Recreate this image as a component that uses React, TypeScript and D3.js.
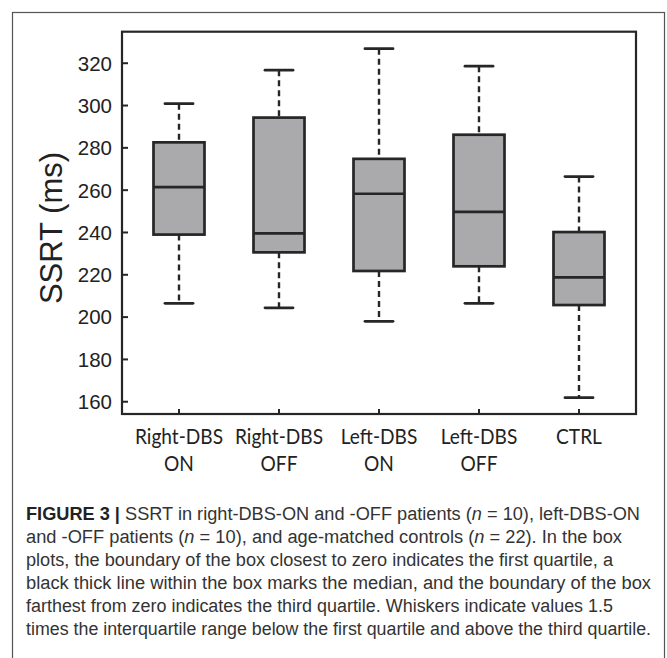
import React from 'react'
import * as d3 from 'd3'

const groups = ['Right-DBS ON', 'Right-DBS OFF', 'Left-DBS ON', 'Left-DBS OFF', 'CTRL']
const groupLabels = [['Right-DBS', 'ON'], ['Right-DBS', 'OFF'], ['Left-DBS', 'ON'], ['Left-DBS', 'OFF'], ['CTRL']]
const whiskerLow = [206.5, 204.4, 198, 206.5, 161.9]
const q1 = [239, 230.6, 221.8, 224, 205.7]
const median = [261.4, 239.6, 258.3, 249.7, 218.8]
const q3 = [282.6, 294.3, 274.8, 286.2, 240.2]
const whiskerHigh = [300.9, 316.7, 326.9, 318.6, 266.4]
const yTicks = [160, 180, 200, 220, 240, 260, 280, 300, 320]

// caption lines: [text, style] segments
const captionLines = [
  [['FIGURE 3 |', 'b'], [' SSRT in right-DBS-ON and -OFF patients (', ''], ['n', 'i'], [' = 10), left-DBS-ON', '']],
  [['and -OFF patients (', ''], ['n', 'i'], [' = 10), and age-matched controls (', ''], ['n', 'i'], [' = 22). In the box', '']],
  [['plots, the boundary of the box closest to zero indicates the first quartile, a', '']],
  [['black thick line within the box marks the median, and the boundary of the box', '']],
  [['farthest from zero indicates the third quartile. Whiskers indicate values 1.5', '']],
  [['times the interquartile range below the first quartile and above the third quartile.', '']]
]
const captionWidths = [614, 596, 587, 625, 587, 625]

const App = () => {
  const left = 122
  const right = 636
  const top = 31.7
  const bottom = 414

  const x = d3.scalePoint().domain(groups).range([left, right]).padding(0.57)
  const y = d3.scaleLinear().domain([154.2, 334.9]).range([bottom, top])

  const boxW = 51
  const capW = 28
  const stroke = '#262626'

  const boxes = groups.map((g, i) => {
    const cx = x(g)
    return (
      <g key={g}>
        <line x1={cx} x2={cx} y1={y(whiskerHigh[i])} y2={y(q3[i])} stroke={stroke} strokeWidth={2.4} strokeDasharray="6,4" />
        <line x1={cx} x2={cx} y1={y(q1[i])} y2={y(whiskerLow[i])} stroke={stroke} strokeWidth={2.4} strokeDasharray="6,4" />
        <line x1={cx - capW / 2} x2={cx + capW / 2} y1={y(whiskerHigh[i])} y2={y(whiskerHigh[i])} stroke={stroke} strokeWidth={2.8} strokeLinecap="round" />
        <line x1={cx - capW / 2} x2={cx + capW / 2} y1={y(whiskerLow[i])} y2={y(whiskerLow[i])} stroke={stroke} strokeWidth={2.8} strokeLinecap="round" />
        <rect x={cx - boxW / 2} y={y(q3[i])} width={boxW} height={y(q1[i]) - y(q3[i])} fill="#aaaaac" stroke={stroke} strokeWidth={2.7} />
        <line x1={cx - boxW / 2} x2={cx + boxW / 2} y1={y(median[i])} y2={y(median[i])} stroke={stroke} strokeWidth={2.7} />
      </g>
    )
  })

  return (
    <svg width={667} height={658} style={{position: 'absolute', left: 0, top: 0, background: '#fff'}}>
      <rect x={12.5} y={12.5} width={652} height={700} fill="none" stroke="#555" strokeWidth={1.2} />

      {yTicks.map(t => (
        <g key={t}>
          <line x1={left} x2={left + 6} y1={y(t)} y2={y(t)} stroke={stroke} strokeWidth={2} />
          <text x={left - 10} y={y(t)} dy="0.36em" textAnchor="end" fontFamily="Liberation Sans, Arial, sans-serif" fontSize={20.5} fill="#222">{t}</text>
        </g>
      ))}
      {groups.map(g => (
        <line key={g} x1={x(g)} x2={x(g)} y1={bottom} y2={bottom - 5} stroke={stroke} strokeWidth={2} />
      ))}

      {boxes}

      <rect x={left} y={top} width={right - left} height={bottom - top} fill="none" stroke={stroke} strokeWidth={2.2} />

      <text transform="translate(62,228) rotate(-90)" textAnchor="middle" fontFamily="Liberation Sans, Arial, sans-serif" fontSize={31} fill="#222">SSRT (ms)</text>

      {groupLabels.map((lines, i) => (
        <g key={i} transform={`translate(${x(groups[i])},0) scale(0.91,1)`}>
          <text textAnchor="middle" fontFamily="Lato, sans-serif" fontSize={21} fill="#222">
            {lines.map((l, j) => (
              <tspan key={j} x={0} y={444.3 + j * 26.4}>{l}</tspan>
            ))}
          </text>
        </g>
      ))}

      {captionLines.map((segs, i) => (
        <text key={i} x={26} y={520 + i * 23} fontFamily="Liberation Sans, Arial, sans-serif" fontSize={18} fill="#333"
          textLength={captionWidths[i]} lengthAdjust="spacingAndGlyphs">
          {segs.map((s, j) => (
            <tspan key={j} fontWeight={s[1] === 'b' ? 'bold' : 'normal'} fontStyle={s[1] === 'i' ? 'italic' : 'normal'} fill={s[1] === 'b' ? '#222' : '#333'}>{s[0]}</tspan>
          ))}
        </text>
      ))}
    </svg>
  )
}

export default App
